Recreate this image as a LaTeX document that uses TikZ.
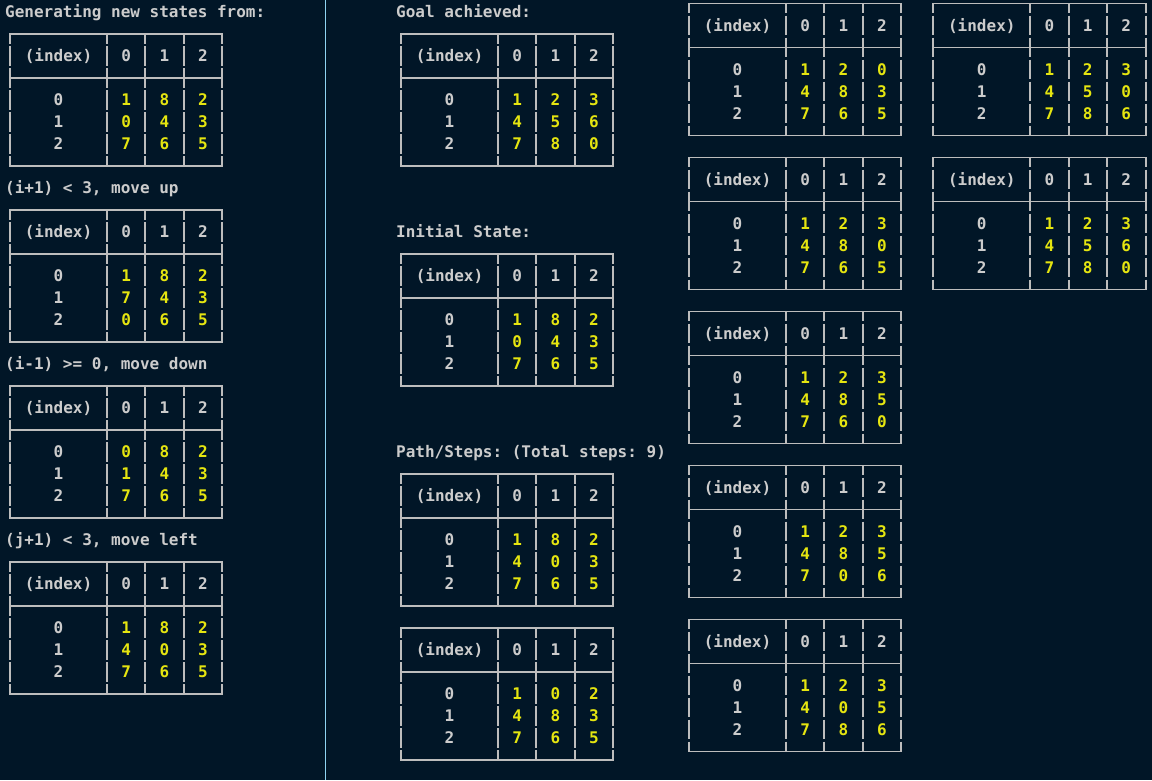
\documentclass[tikz,border=0pt]{standalone}
\usepackage{fontspec}
\setmonofont{DejaVu Sans Mono}
\definecolor{bgc}{HTML}{011627}
\definecolor{txt}{HTML}{CCCCCC}
\definecolor{yel}{HTML}{E5E510}
\definecolor{rulec}{HTML}{BDBDBD}
\definecolor{sepc}{HTML}{8FD3F0}
\tikzset{
  term/.style={font=\ttfamily\bfseries\fontsize{16}{18}\selectfont, inner sep=0pt, anchor=base},
  gtxt/.style={term, text=txt},
  ytxt/.style={term, text=yel},
  ttl/.style={term, text=txt, anchor=base west},
  hline/.style={draw=rulec, line width=1.3pt},
  vline/.style={draw=rulec, line width=2pt, dash pattern=on 19.5pt off 2.5pt, dash phase=9.75pt},
}
\newcommand\ptab[4]{%
  \begin{scope}[shift={(#2,#3)}]
    \foreach \yy in {0,44,132} \draw[hline] (-1,\yy) -- (213.3,\yy);
    \foreach \xx in {0,97,135.3,173.7,212.3} \draw[vline] (\xx,0) -- (\xx,132);
    \node[gtxt] (#1-h) at (48.5,27.7) {(index)};
    \node[gtxt] (#1-h0) at (116.2,27.7) {0};
    \node[gtxt] (#1-h1) at (154.5,27.7) {1};
    \node[gtxt] (#1-h2) at (193,27.7) {2};
    \foreach [count=\r from 0] \a/\b/\c in {#4} {
      \node[gtxt] (#1-i\r) at (48.5,{71.7+22*\r}) {\r};
      \node[ytxt] (#1-\r-0) at (116.2,{71.7+22*\r}) {\a};
      \node[ytxt] (#1-\r-1) at (154.5,{71.7+22*\r}) {\b};
      \node[ytxt] (#1-\r-2) at (193,{71.7+22*\r}) {\c};
    }
  \end{scope}}
\begin{document}
\begin{tikzpicture}[x=1pt,y=-1pt]
  \fill[bgc] (0,0) rectangle (1152,780);
  \useasboundingbox (0,0) rectangle (1152,780);
  \coordinate (septop) at (325.5,0);
  \coordinate (sepbot) at (325.5,780);
  \draw[sepc, line width=1pt] (septop) -- (sepbot);
  % left column
  \node[ttl] (t1) at (5,17.7) {Generating new states from:};
  \ptab{A}{10}{34}{1/8/2,0/4/3,7/6/5}
  \node[ttl] (t2) at (5,193.7) {(i+1) < 3, move up};
  \ptab{B}{10}{210}{1/8/2,7/4/3,0/6/5}
  \node[ttl] (t3) at (5,369.7) {(i-1) >= 0, move down};
  \ptab{C}{10}{386}{0/8/2,1/4/3,7/6/5}
  \node[ttl] (t4) at (5,545.7) {(j+1) < 3, move left};
  \ptab{D}{10}{562}{1/8/2,4/0/3,7/6/5}
  % middle column
  \node[ttl] (t5) at (396,17.7) {Goal achieved:};
  \ptab{G}{401}{34}{1/2/3,4/5/6,7/8/0}
  \node[ttl] (t6) at (396,237.7) {Initial State:};
  \ptab{I}{401}{254}{1/8/2,0/4/3,7/6/5}
  \node[ttl] (t7) at (396,457.7) {Path/Steps: (Total steps: 9)};
  \ptab{P1}{401}{474}{1/8/2,4/0/3,7/6/5}
  \ptab{P2}{401}{628}{1/0/2,4/8/3,7/6/5}
  % right columns
  \ptab{P3}{689}{3.3}{1/2/0,4/8/3,7/6/5}
  \ptab{P4}{689}{157.3}{1/2/3,4/8/0,7/6/5}
  \ptab{P5}{689}{311.3}{1/2/3,4/8/5,7/6/0}
  \ptab{P6}{689}{465.3}{1/2/3,4/8/5,7/0/6}
  \ptab{P7}{689}{619.3}{1/2/3,4/0/5,7/8/6}
  \ptab{P8}{933.3}{3.3}{1/2/3,4/5/0,7/8/6}
  \ptab{P9}{933.3}{157.3}{1/2/3,4/5/6,7/8/0}
\end{tikzpicture}
\end{document}
